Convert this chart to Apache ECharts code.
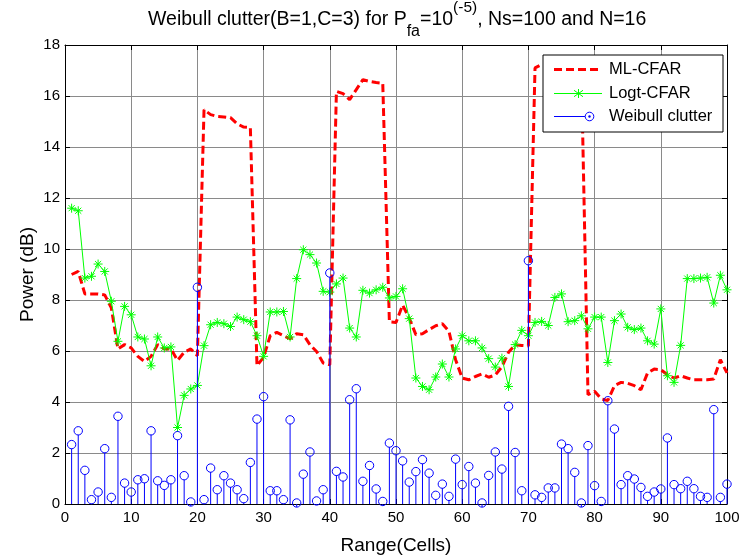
<!DOCTYPE html>
<html>
<head>
<meta charset="utf-8">
<script src="https://cdn.jsdelivr.net/npm/echarts@6/dist/echarts.min.js"></script>
<style>
html,body{margin:0;padding:0;background:#fff;}
#c{width:741px;height:558px;}
</style>
</head>
<body>
<div id="c"></div>
<script>
// ---- data ----
const xTicks = [0, 10, 20, 30, 40, 50, 60, 70, 80, 90, 100];
const yTicks = [0, 2, 4, 6, 8, 10, 12, 14, 16, 18];

const mlCfar = [
  9.0, 9.12, 8.24, 8.24, 8.24, 8.2, 7.69, 6.08, 6.25, 6.12,
  5.79, 5.59, 5.79, 6.25, 6.08, 6.08, 5.63, 5.95, 6.08, 5.82,
  15.46, 15.27, 15.2, 15.18, 15.15, 14.91, 14.78, 14.76, 5.42, 5.76,
  6.6, 6.73, 6.6, 6.48, 6.68, 6.64, 6.25, 5.98, 5.53, 5.46,
  16.18, 16.09, 15.86, 16.25, 16.64, 16.57, 16.53, 16.5, 7.14, 7.12,
  7.8, 7.29, 6.64, 6.68, 6.84, 6.99, 7.07, 6.77, 5.66, 4.94,
  4.87, 5.0, 5.1, 4.97, 5.06, 5.38, 5.95, 6.25, 6.22, 6.2,
  17.1, 17.23, 17.25, 17.25, 17.2, 17.2, 17.15, 17.1, 4.29, 4.42,
  4.12, 4.06, 4.64, 4.77, 4.73, 4.64, 4.48, 5.14, 5.29, 5.27,
  5.07, 4.94, 5.03, 4.94, 4.87, 4.87, 4.87, 4.9, 5.66, 5.14
];

const logtCfar = [
  11.6, 11.5, 8.86, 8.93, 9.41, 9.12, 7.95, 6.38, 7.75, 7.42,
  6.55, 6.47, 5.42, 6.55, 6.12, 6.16, 3.0, 4.26, 4.51, 4.65,
  6.21, 7.03, 7.12, 7.07, 6.96, 7.33, 7.23, 7.15, 6.6, 5.79,
  7.53, 7.53, 7.55, 6.55, 8.84, 9.97, 9.78, 9.45, 8.34, 8.31,
  8.63, 8.86, 6.9, 6.55, 8.38, 8.27, 8.4, 8.5, 8.08, 8.14,
  8.44, 7.27, 4.94, 4.61, 4.48, 4.98, 5.49, 4.98, 6.08, 6.6,
  6.4, 6.4, 6.12, 5.7, 5.37, 5.72, 4.61, 6.25, 6.81, 6.6,
  7.12, 7.16, 7.0, 8.1, 8.24, 7.15, 7.19, 7.38, 6.87, 7.33,
  7.33, 5.55, 7.19, 7.45, 6.93, 6.84, 6.9, 6.4, 6.27, 7.65,
  5.03, 4.77, 6.22, 8.84, 8.84, 8.86, 8.89, 7.88, 8.97, 8.4
];

const clutter = [
  2.33, 2.87, 1.32, 0.17, 0.47, 2.17, 0.26, 3.44, 0.82, 0.47,
  0.95, 0.99, 2.87, 0.91, 0.73, 0.95, 2.68, 1.11, 0.08, 8.50,
  0.17, 1.41, 0.56, 1.11, 0.82, 0.56, 0.21, 1.63, 3.33, 4.21,
  0.52, 0.52, 0.17, 3.30, 0.04, 1.17, 2.04, 0.12, 0.56, 9.06,
  1.28, 1.06, 4.09, 4.52, 0.89, 1.51, 0.59, 0.10, 2.39, 2.09,
  1.69, 0.86, 1.27, 1.74, 1.21, 0.34, 0.78, 0.30, 1.76, 0.76,
  1.47, 0.82, 0.04, 1.12, 2.04, 1.37, 3.83, 2.02, 0.52, 9.54,
  0.36, 0.26, 0.63, 0.63, 2.35, 2.17, 1.24, 0.04, 2.29, 0.72,
  0.10, 4.05, 2.94, 0.76, 1.11, 0.98, 0.65, 0.30, 0.47, 0.59,
  2.59, 0.76, 0.60, 0.89, 0.60, 0.30, 0.26, 3.70, 0.26, 0.78
];

const cells = clutter.map((_, i) => i + 1);
const seriesNames = ['ML-CFAR', 'Logt-CFAR', 'Weibull clutter'];

// ---- chart ----
const FONT = '"Liberation Sans", Arial, Helvetica, sans-serif';
const chart = echarts.init(document.getElementById('c'), null, {renderer: 'canvas'});

const pair = arr => arr.map((v, i) => [cells[i], v]);
const star = 'path://M5,0L5,10M0,5L10,5M1.6,1.6L8.4,8.4M8.4,1.6L1.6,8.4';

const axisCommon = {
  min: 0,
  axisLine: {show: true, onZero: false, lineStyle: {color: '#000', width: 1}},
  axisTick: {show: true, inside: true, length: 5, lineStyle: {color: '#000', width: 1}},
};

const legendX = 542.5, legendY = 54.5;
const rowY = [69, 93, 116];
const LZ = 100;

const option = {
  animation: false,
  backgroundColor: '#fff',
  textStyle: {fontFamily: FONT},
  title: {
    left: 148,
    top: 0,
    padding: 0,
    text: '{a|Weibull clutter(B=1,C=3) for P}{sub|fa}{a|=10}{sup|(-5)}{a|, Ns=100 and N=16}',
    textStyle: {
      fontFamily: FONT,
      fontWeight: 'normal',
      rich: {
        a: {fontSize: 19.5, fontFamily: FONT, fontWeight: 'normal', color: '#000', lineHeight: 40, verticalAlign: 'middle'},
        sub: {fontSize: 16, fontFamily: FONT, fontWeight: 'normal', color: '#000', lineHeight: 5, verticalAlign: 'bottom'},
        sup: {fontSize: 15.5, fontFamily: FONT, fontWeight: 'normal', color: '#000', lineHeight: 40, verticalAlign: 'top'}
      }
    }
  },
  grid: {left: 65, top: 45, width: 662, height: 459, containLabel: false, outerBoundsMode: 'none'},
  xAxis: [
    Object.assign({}, axisCommon, {
      type: 'value', max: 100, interval: 10, position: 'bottom',
      name: 'Range(Cells)', nameLocation: 'middle', nameGap: 32, nameMoveOverlap: false,
      nameTextStyle: {fontSize: 19, color: '#000', fontFamily: FONT},
      axisLabel: {show: true, fontSize: 15, color: '#000', margin: 6, fontFamily: FONT,
        formatter: v => (xTicks.indexOf(v) >= 0 ? String(v) : '')},
      splitLine: {show: true, lineStyle: {color: '#8a8a8a', width: 1, type: 'solid'}}
    }),
    Object.assign({}, axisCommon, {
      type: 'value', max: 100, interval: 10, position: 'top',
      axisLabel: {show: false}, splitLine: {show: false}
    })
  ],
  yAxis: [
    Object.assign({}, axisCommon, {
      type: 'value', max: 18, interval: 2, position: 'left',
      name: 'Power (dB)', nameLocation: 'middle', nameGap: 28, nameMoveOverlap: false,
      nameTextStyle: {fontSize: 19, color: '#000', fontFamily: FONT},
      axisLabel: {show: true, fontSize: 15, color: '#000', margin: 5, fontFamily: FONT,
        formatter: v => (yTicks.indexOf(v) >= 0 ? String(v) : '')},
      splitLine: {show: true, lineStyle: {color: '#8a8a8a', width: 1, type: 'solid'}}
    }),
    Object.assign({}, axisCommon, {
      type: 'value', max: 18, interval: 2, position: 'right',
      axisLabel: {show: false}, splitLine: {show: false}
    })
  ],
  series: [
    {
      name: seriesNames[0], type: 'line', data: pair(mlCfar),
      showSymbol: false, symbol: 'none', z: 2,
      lineStyle: {color: '#ff0000', width: 3, type: [8, 4]},
      itemStyle: {color: '#ff0000'}
    },
    {
      name: seriesNames[1], type: 'line', data: pair(logtCfar), z: 3,
      symbol: star, symbolSize: 9, showSymbol: true,
      lineStyle: {color: '#00ff00', width: 1},
      itemStyle: {color: '#00ff00', borderColor: '#00ff00', borderWidth: 1}
    },
    {
      name: seriesNames[2], type: 'custom', data: pair(clutter), z: 4, clip: false,
      encode: {x: 0, y: 1},
      renderItem: function (params, api) {
        const x = api.value(0), y = api.value(1);
        const b = api.coord([x, 0]);
        const t = api.coord([x, y]);
        return {
          type: 'group',
          children: [
            {type: 'line', shape: {x1: b[0], y1: b[1], x2: t[0], y2: t[1] + 4},
             style: {stroke: '#0000ff', lineWidth: 1}},
            {type: 'circle', shape: {cx: t[0], cy: t[1], r: 4.2},
             style: {fill: null, stroke: '#0000ff', lineWidth: 1}}
          ]
        };
      }
    }
  ],
  graphic: [
    {
      type: 'group', left: legendX, top: legendY, z: LZ,
      children: [
        {type: 'rect', z: LZ, shape: {x: 0, y: 0, width: 180, height: 77},
         style: {fill: '#fff', stroke: '#000', lineWidth: 1}},
        // ML-CFAR
        {type: 'line', z: LZ + 1, shape: {x1: 11, y1: rowY[0] - legendY, x2: 59, y2: rowY[0] - legendY},
         style: {stroke: '#ff0000', lineWidth: 3, lineDash: [8, 4]}},
        {type: 'text', z: LZ + 1, x: 66, y: rowY[0] - legendY,
         style: {text: seriesNames[0], fontSize: 16.5, fontFamily: FONT, fill: '#000', verticalAlign: 'middle'}},
        // Logt-CFAR
        {type: 'line', z: LZ + 1, shape: {x1: 11, y1: rowY[1] - legendY, x2: 59, y2: rowY[1] - legendY},
         style: {stroke: '#00ff00', lineWidth: 1}},
        {type: 'line', z: LZ + 1, shape: {x1: 35.5, y1: rowY[1] - legendY - 4.5, x2: 35.5, y2: rowY[1] - legendY + 4.5}, style: {stroke: '#00ff00', lineWidth: 1}},
        {type: 'line', z: LZ + 1, shape: {x1: 31, y1: rowY[1] - legendY - 3.2, x2: 40, y2: rowY[1] - legendY + 3.2}, style: {stroke: '#00ff00', lineWidth: 1}},
        {type: 'line', z: LZ + 1, shape: {x1: 40, y1: rowY[1] - legendY - 3.2, x2: 31, y2: rowY[1] - legendY + 3.2}, style: {stroke: '#00ff00', lineWidth: 1}},
        {type: 'text', z: LZ + 1, x: 66, y: rowY[1] - legendY,
         style: {text: seriesNames[1], fontSize: 16.5, fontFamily: FONT, fill: '#000', verticalAlign: 'middle'}},
        // Weibull clutter
        {type: 'line', z: LZ + 1, shape: {x1: 11, y1: rowY[2] - legendY, x2: 42, y2: rowY[2] - legendY},
         style: {stroke: '#0000ff', lineWidth: 1}},
        {type: 'circle', z: LZ + 1, shape: {cx: 46.5, cy: rowY[2] - legendY, r: 4.3},
         style: {fill: null, stroke: '#0000ff', lineWidth: 1}},
        {type: 'circle', z: LZ + 1, shape: {cx: 46.5, cy: rowY[2] - legendY, r: 1.2},
         style: {fill: '#0000ff'}},
        {type: 'text', z: LZ + 1, x: 66, y: rowY[2] - legendY,
         style: {text: seriesNames[2], fontSize: 16.5, fontFamily: FONT, fill: '#000', verticalAlign: 'middle'}}
      ]
    }
  ]
};

chart.setOption(option);
</script>
</body>
</html>
